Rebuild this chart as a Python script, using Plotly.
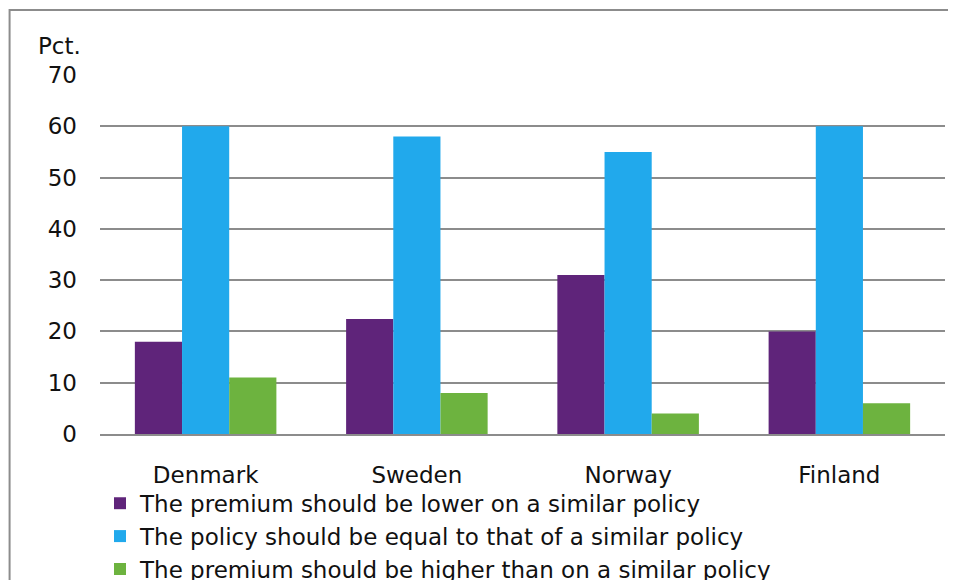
import plotly.graph_objects as go

countries = ["Denmark", "Sweden", "Norway", "Finland"]
lower = [18, 22.4, 31, 20]
equal = [60, 58, 55, 60]
higher = [11, 8, 4, 6]

series = [
    ("The premium should be lower on a similar policy", lower, "#5F247A"),
    ("The policy should be equal to that of a similar policy", equal, "#21A9EC"),
    ("The premium should be higher than on a similar policy", higher, "#6DB33F"),
]

fig = go.Figure()
for name, vals, col in series:
    fig.add_trace(go.Bar(x=countries, y=vals, name=name, marker_color=col,
                         marker_line_width=0))

font = "DejaVu Sans, Verdana, sans-serif"
fs = 23
fig.update_layout(
    width=956, height=580,
    barmode="group", bargap=0.33, bargroupgap=0,
    plot_bgcolor="white", paper_bgcolor="white",
    margin=dict(l=92, r=19, t=67, b=154, autoexpand=False),
    font=dict(family=font, size=fs, color="#111"),
    showlegend=True,
    legend=dict(orientation="v", x=0.0, y=-0.133, xanchor="left", yanchor="top",
                font=dict(size=fs), tracegroupgap=0, itemwidth=30,
                bgcolor="rgba(0,0,0,0)"),
)
fig.update_yaxes(range=[0, 70], dtick=10, showgrid=True, gridcolor="#8c8c8c",
                 gridwidth=1.5, zeroline=False, showline=False,
                 ticklabelstandoff=22, tickfont=dict(size=fs))
fig.update_xaxes(showline=True, linecolor="#8c8c8c", linewidth=2,
                 tickfont=dict(size=fs), ticklabelstandoff=19)

fig.add_annotation(text="Pct.", xref="paper", yref="paper", x=-0.0757, y=1.081,
                   xanchor="left", yanchor="middle", showarrow=False,
                   font=dict(size=fs))
fig.add_shape(type="rect", xref="paper", yref="paper",
              x0=-0.107, x1=1.2, y0=-0.9, y1=1.181,
              line=dict(color="#8c8c8c", width=2))

fig.write_html("out.html")
